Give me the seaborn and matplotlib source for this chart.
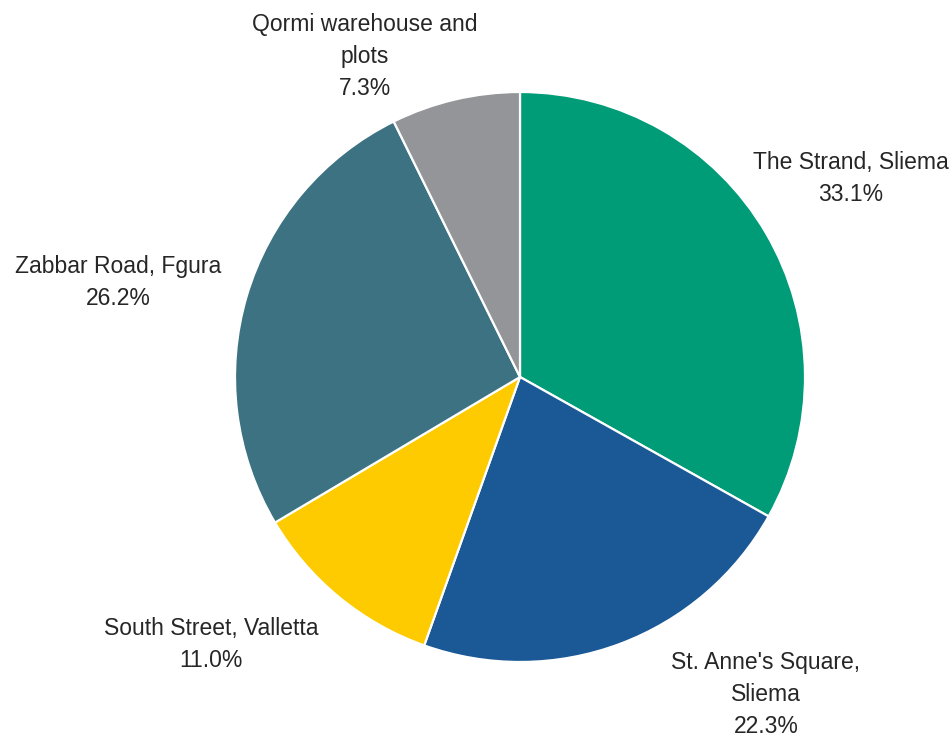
import matplotlib
matplotlib.use("Agg")
import matplotlib.pyplot as plt
from matplotlib import font_manager
import seaborn as sns

categories = ["The Strand, Sliema", "St. Anne's Square,\nSliema", "South Street, Valletta",
              "Zabbar Road, Fgura", "Qormi warehouse and\nplots"]
values = [33.1, 22.3, 11.0, 26.2, 7.3]
colors = ["#009B77", "#1A5896", "#FDCB00", "#3C7282", "#939598"]
label_pos = [(1.16, 0.695), (0.863, -1.115), (-1.084, -0.94), (-1.41, 0.33), (-0.544, 1.123)]

sns.set_theme(style="white")
names = {f.name for f in font_manager.fontManager.ttflist}
fam = "Liberation Sans Narrow" if "Liberation Sans Narrow" in names else "Liberation Sans"
plt.rcParams['font.family'] = [fam, 'DejaVu Sans']

fig = plt.figure(figsize=(9.53, 7.41), dpi=100)
ax = fig.add_axes([0, 0, 1, 1])
ax.pie(values, colors=colors, startangle=90, counterclock=False, radius=1,
       wedgeprops=dict(edgecolor="white", linewidth=1.6))
for cat, v, (x, y) in zip(categories, values, label_pos):
    ax.text(x, y, f"{cat}\n{v:.1f}%", ha="center", va="center", fontsize=16.5,
            color="#262626", linespacing=1.5)
ax.set_xlim(-520/285, (953-520)/285)
ax.set_ylim(-(741-377)/285, 377/285)
ax.set_aspect("equal")
ax.axis("off")
fig.savefig("out.png", dpi=100, facecolor="white")
